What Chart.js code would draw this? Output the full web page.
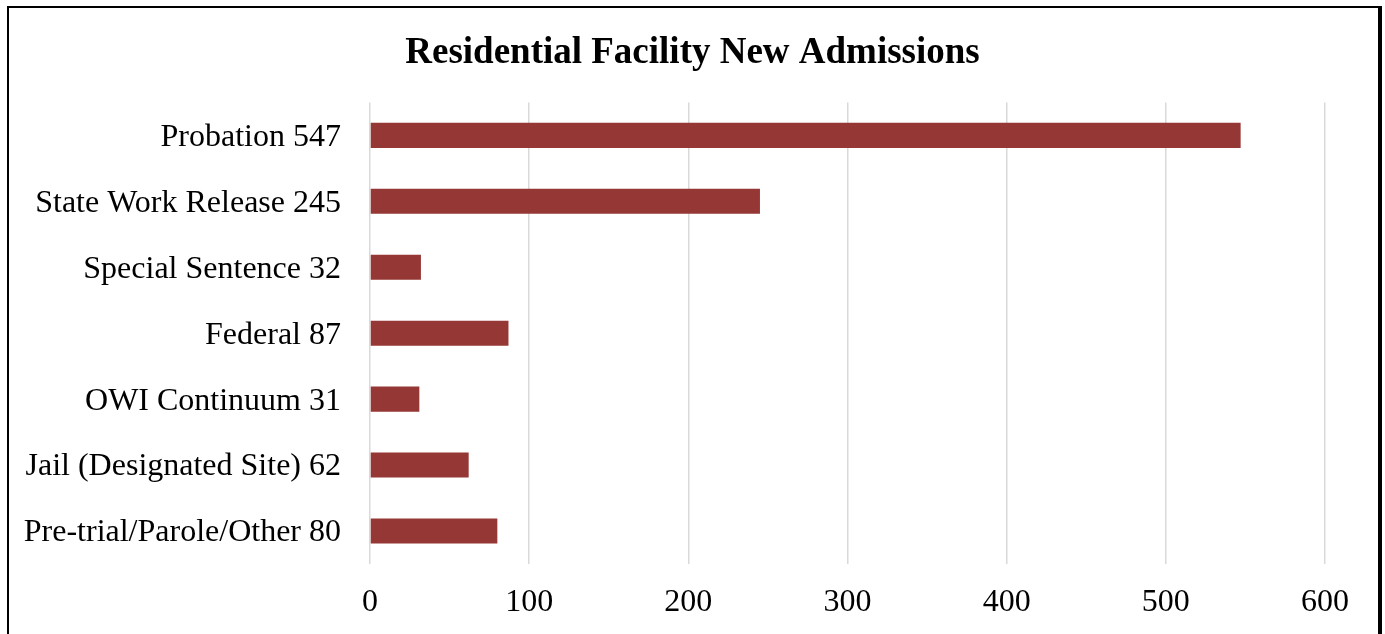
<!DOCTYPE html>
<html>
<head>
<meta charset="utf-8">
<title>Residential Facility New Admissions</title>
<script src="https://cdn.jsdelivr.net/npm/chart.js@4/dist/chart.umd.min.js"></script>
<style>
    html, body { margin: 0; padding: 0; background: #fff; overflow: hidden; }
    #wrap { position: absolute; left: 0; top: 0; width: 1385px; height: 634px; }
    #frame {
        position: absolute; left: 7px; top: 6px; width: 1375px; height: 700px;
        box-sizing: border-box; border-style: solid; border-color: #000;
        border-width: 2px 4px 0 2px; pointer-events: none;
    }
</style>
</head>
<body>
<div id="wrap"><canvas id="chart" width="1385" height="634"></canvas></div>
<div id="frame"></div>
<script>
const CATEGORIES = [
    "Probation",
    "State Work Release",
    "Special Sentence",
    "Federal",
    "OWI Continuum",
    "Jail (Designated Site)",
    "Pre-trial/Parole/Other",
];
const ADMISSIONS = [547, 245, 32, 87, 31, 62, 80];
const X_MAX = 600;
const X_STEP = 100;

const BAR_COLOR = "#953735";
const FONT = "'Liberation Serif', 'Times New Roman', serif";

const labels = CATEGORIES.map((c, i) => `${c} ${ADMISSIONS[i]}`);

new Chart(document.getElementById("chart"), {
    type: "bar",
    data: {
        labels: labels,
        datasets: [{
            data: ADMISSIONS,
            backgroundColor: BAR_COLOR,
            borderWidth: 0,
            barPercentage: 0.38,
            categoryPercentage: 1,
        }],
    },
    options: {
        indexAxis: "y",
        responsive: false,
        animation: false,
        devicePixelRatio: 1,
        layout: { padding: 0 },
        plugins: {
            legend: { display: false },
            tooltip: { enabled: false },
            title: {
                display: true,
                text: "Residential Facility New Admissions",
                color: "#000",
                font: { family: FONT, size: 37, weight: "bold" },
                padding: { top: 31, bottom: 27 },
            },
        },
        scales: {
            x: {
                min: 0,
                max: X_MAX,
                ticks: {
                    stepSize: X_STEP,
                    color: "#000",
                    font: { family: FONT, size: 32 },
                    padding: 19,
                    maxRotation: 0,
                },
                grid: { color: "#d9d9d9", lineWidth: 1.5, drawTicks: false },
                border: { display: false },
                afterFit: (scale) => { scale.height = 70; },
            },
            y: {
                ticks: {
                    color: "#000",
                    font: { family: FONT, size: 32 },
                    padding: 29,
                    labelOffset: 2,
                },
                grid: { display: false, drawTicks: false },
                border: { display: false },
                afterFit: (scale) => { scale.width = 370; },
            },
            // empty right-hand axis, only reserves the space right of the plot
            gap: {
                type: "linear",
                position: "right",
                ticks: { display: false },
                grid: { display: false, drawTicks: false },
                border: { display: false },
                afterFit: (scale) => { scale.width = 60; },
            },
        },
    },
});
</script>
</body>
</html>
